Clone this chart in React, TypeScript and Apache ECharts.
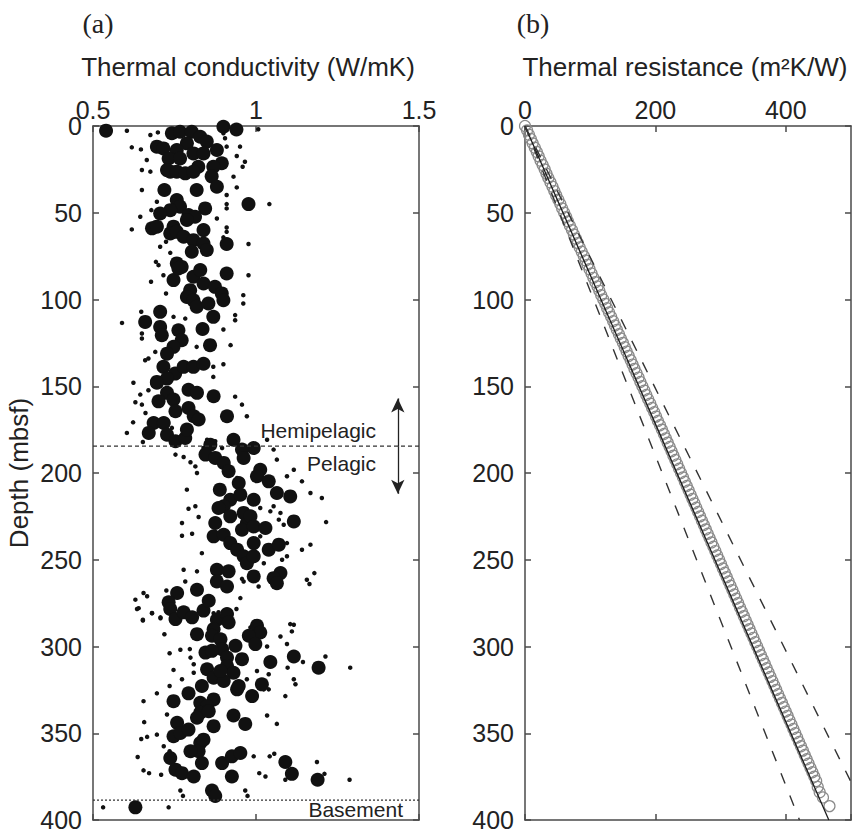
import React, { useEffect, useRef } from 'react';
import * as echarts from 'echarts';

// ---------- Panel (a): thermal conductivity (W/mK) vs depth (mbsf) ----------
const conductivityTicks = [0.5, 1, 1.5];
const depthTicks = [0, 50, 100, 150, 200, 250, 300, 350, 400];
const resistanceTicks = [0, 200, 400];

// large dots [conductivity, depth]
const bigDots: number[][] = [
  [0.54, 2.7], [0.90, 0.4], [0.94, 2.0],
  [0.742, 4.2], [0.767, 3.3], [0.803, 3.3], [0.829, 6.2], [0.849, 9.0], [0.788, 10.0], [0.757, 13.8], [0.696, 11.9],
  [0.716, 12.9], [0.732, 18.7], [0.767, 18.7], [0.808, 15.8], [0.839, 15.8], [0.880, 13.8], [0.895, 21.5], [0.869, 23.5],
  [0.823, 23.5], [0.737, 26.3], [0.727, 25.4], [0.757, 26.3], [0.783, 27.3], [0.808, 26.3], [0.864, 29.0],
  [0.818, 36.9], [0.880, 35.0], [0.719, 36.9], [0.844, 47.5], [0.977, 45.0],
  [0.757, 42.7], [0.767, 46.5], [0.737, 48.5], [0.706, 50.4], [0.793, 51.3], [0.813, 52.3], [0.788, 54.2], [0.681, 59.0],
  [0.696, 58.0], [0.747, 58.0], [0.737, 61.9], [0.757, 61.0], [0.778, 63.8], [0.808, 65.8], [0.803, 72.5], [0.839, 67.7],
  [0.849, 71.5], [0.839, 60.0], [0.910, 68.0], [0.910, 85.0],
  [0.757, 79.2], [0.772, 81.2], [0.747, 88.8], [0.762, 82.1], [0.808, 86.9], [0.829, 83.0], [0.839, 90.8], [0.798, 94.6],
  [0.788, 98.5], [0.808, 100.4], [0.818, 104.2], [0.854, 102.3], [0.869, 110.0], [0.874, 92.7], [0.895, 96.5], [0.900, 100.4],
  [0.706, 107.1], [0.660, 112.9], [0.706, 115.8], [0.711, 120.6], [0.762, 117.7], [0.772, 123.5], [0.747, 127.3],
  [0.727, 131.2], [0.716, 138.8], [0.752, 142.7], [0.778, 138.8], [0.808, 138.8], [0.839, 137.0], [0.859, 126.3],
  [0.836, 117.0], [0.696, 147.5], [0.727, 145.6],
  [0.696, 148.0], [0.727, 153.8], [0.701, 158.7], [0.747, 157.7], [0.793, 152.0], [0.819, 153.8], [0.870, 155.8],
  [0.753, 164.4], [0.793, 162.5], [0.809, 167.3], [0.824, 169.2], [0.686, 171.2], [0.717, 171.2], [0.671, 176.9],
  [0.727, 177.9], [0.753, 181.7], [0.783, 179.8], [0.788, 175.0], [0.911, 167.3], [0.931, 180.8], [0.993, 185.6],
  [0.860, 183.7], [0.845, 189.4], [0.875, 191.3], [0.901, 194.2], [0.916, 199.0], [0.957, 186.5], [0.962, 191.3],
  [1.013, 198.1], [1.003, 201.9], [1.039, 204.8], [0.947, 205.8], [0.889, 209.6], [0.921, 215.4], [0.952, 212.5],
  [0.993, 215.4], [1.064, 211.5], [1.105, 213.5], [0.901, 219.2], [0.885, 220.2], [0.875, 228.8], [0.921, 225.0],
  [0.962, 223.0], [0.972, 228.8], [0.983, 225.0], [0.957, 232.7], [0.993, 230.8], [1.029, 231.7], [1.116, 227.9],
  [0.870, 236.5], [0.901, 235.6], [0.921, 240.4], [0.942, 244.2], [0.962, 248.0], [0.972, 252.0], [0.993, 248.0],
  [0.993, 240.4], [1.039, 244.2], [1.070, 241.3], [1.075, 257.7], [1.054, 260.6], [1.064, 263.5], [0.993, 259.6],
  [0.880, 255.8], [0.916, 256.7], [0.880, 262.5], [0.911, 265.4], [0.758, 269.2], [0.819, 267.3], [0.880, 284.6],
  [0.732, 274.5], [0.737, 278.4], [0.753, 284.2], [0.778, 280.3], [0.804, 283.2], [0.839, 279.3], [0.855, 273.6],
  [0.911, 281.3], [0.916, 286.1], [0.870, 290.0], [0.819, 292.9], [0.865, 293.8], [0.891, 295.8], [0.896, 301.5],
  [0.937, 299.6], [0.957, 307.3], [0.845, 303.5], [0.865, 302.5], [0.911, 306.4], [0.911, 311.2], [0.931, 315.1],
  [0.850, 313.1], [0.870, 318.0], [0.901, 319.9], [0.891, 314.1], [1.003, 288.0], [1.013, 291.9], [0.978, 293.8],
  [0.998, 298.6], [1.044, 308.9], [1.116, 305.8], [1.192, 312.2], [0.834, 322.8], [0.793, 327.0], [0.747, 331.5],
  [0.829, 332.4], [0.870, 330.5], [0.850, 334.4], [0.942, 324.7], [0.947, 322.8], [0.988, 328.6], [1.018, 321.8],
  [0.829, 338.2], [0.819, 341.1], [0.855, 337.3], [0.870, 345.9], [0.931, 339.8], [0.967, 344.6], [0.758, 344.0],
  [0.747, 351.7], [0.768, 349.8], [0.793, 347.9], [0.829, 355.6], [0.824, 360.4], [0.839, 353.7], [0.799, 360.4],
  [0.834, 367.2], [0.737, 364.3], [0.753, 371.0], [0.773, 373.0], [0.809, 374.9], [0.896, 367.2], [0.926, 363.3],
  [0.952, 361.4], [0.926, 374.9], [1.090, 366.6], [1.110, 373.4], [1.189, 376.8], [0.865, 383.0], [0.875, 386.1],
  [0.630, 392.7],
];

// small dots [conductivity, depth]
const smallDots: number[][] = [
  [0.604, 2.7], [0.619, 12.3], [0.647, 13.5], [0.676, 5.2], [0.699, 3.7], [0.665, 19.6], [0.65, 25.4], [0.676, 26.3],
  [0.65, 36.9], [0.696, 43.7], [0.679, 48.5], [0.645, 52.3], [0.619, 59.6], [0.706, 69.6], [0.724, 66.7], [0.737, 73.1],
  [0.693, 78.3], [0.701, 80.2], [0.678, 89.8], [0.716, 86.0], [0.724, 96.5], [0.648, 107.1], [0.589, 113.5], [0.65, 119.6],
  [0.65, 122.5], [0.67, 134.0], [0.66, 135.0], [0.691, 130.2], [0.624, 148.0], [0.67, 152.3], [0.9, 2.3], [0.9, 4.2],
  [0.905, 7.1], [0.91, 11.9], [0.951, 11.9], [0.941, 17.3], [0.966, 20.6], [0.959, 23.5], [0.931, 29.2], [0.941, 35.4],
  [0.91, 39.8], [0.91, 45.0], [0.91, 47.5], [1.041, 45.0], [0.88, 53.3], [0.91, 58.5], [0.91, 61.0], [0.977, 68.0],
  [0.977, 86.0], [0.961, 97.5], [0.961, 102.3], [0.936, 109.0], [0.936, 112.0], [0.9, 117.3], [0.922, 126.3], [0.9, 137.3],
  [0.869, 144.6], [0.936, 156.0], [1.007, 1.9], [0.839, 58.0], [0.9, 64.2], [0.803, 101.3], [0.747, 110.0], [0.783, 111.0],
  [0.823, 117.7], [0.818, 127.3], [0.788, 137.0], [0.869, 138.8],
  [0.604, 176.9], [0.623, 170.8], [0.653, 182.1], [0.650, 160.6], [0.630, 159.2], [0.661, 165.4], [0.645, 154.8],
  [0.742, 174.0], [0.753, 189.4], [0.778, 190.8], [0.799, 193.8], [0.814, 196.2], [0.819, 200.0], [0.788, 209.6],
  [0.793, 220.6], [0.814, 219.2], [0.824, 225.4], [0.773, 228.8], [0.773, 236.2], [0.804, 235.0], [0.834, 246.2],
  [0.778, 255.8], [0.819, 256.7], [0.783, 262.5], [0.942, 202.9], [0.972, 167.3], [0.850, 180.8], [0.839, 185.6],
  [0.875, 181.7], [0.896, 185.6], [1.034, 180.8], [1.054, 186.5], [1.064, 192.3], [1.095, 201.9], [1.116, 198.1],
  [1.141, 204.8], [1.167, 211.5], [1.202, 214.4], [1.215, 228.3], [1.075, 223.0], [1.070, 226.9], [1.085, 229.8],
  [1.095, 240.4], [1.080, 250.0], [1.095, 248.0], [1.141, 244.2], [1.167, 241.3], [1.156, 261.5], [1.164, 264.0],
  [1.179, 257.7], [1.044, 222.1], [1.054, 219.2], [1.013, 220.2], [1.013, 236.5], [1.024, 252.0], [0.957, 261.0],
  [0.962, 262.5], [1.008, 265.4], [0.952, 272.1], [0.630, 273.0], [0.640, 277.9], [0.655, 269.2], [0.666, 271.0],
  [0.681, 280.8], [0.707, 283.7], [0.653, 285.0], [0.725, 267.7], [0.870, 280.8], [1.116, 287.5], [0.957, 160.6],
  [0.531, 392.7], [0.732, 392.7], [0.635, 278.4], [0.681, 280.7], [0.653, 284.6], [0.707, 283.2], [0.719, 292.9],
  [0.735, 303.9], [0.747, 313.5], [0.655, 331.5], [0.696, 327.0], [0.657, 343.6], [0.666, 352.1], [0.648, 353.3],
  [0.696, 350.8], [0.717, 357.5], [0.735, 360.4], [0.637, 363.7], [0.655, 371.4], [0.672, 373.0], [0.709, 373.9],
  [0.768, 383.0], [0.776, 386.1], [0.967, 383.0], [0.974, 386.1], [0.993, 363.3], [1.010, 373.0], [1.029, 374.9],
  [1.042, 363.3], [1.056, 361.8], [1.090, 376.8], [1.187, 366.6], [1.210, 373.4], [1.287, 376.8], [1.090, 328.6],
  [1.116, 318.9], [1.121, 321.8], [1.105, 287.1], [1.110, 291.3], [1.075, 294.2], [1.034, 300.0], [0.983, 289.0],
  [1.011, 286.5], [1.097, 312.2], [1.144, 308.9], [1.213, 305.8], [1.289, 312.2], [1.095, 298.6], [1.034, 339.8],
  [1.064, 344.6], [0.972, 318.9], [1.003, 314.1], [1.039, 316.0], [1.039, 324.7], [1.024, 324.7], [0.940, 278.4],
  [0.885, 280.3], [0.768, 301.9], [0.797, 301.5], [0.799, 306.4], [0.809, 310.2], [0.809, 315.1], [0.773, 318.9],
  [0.735, 322.8], [0.727, 339.2],
];

// boundaries (depth, mbsf)
const hemipelagicPelagicDepth = 184.5;
const basementDepth = 388.5;
const arrowX = 1.435;
const arrowUpDepth = 157;
const arrowDownDepth = 212;

// ---------- Panel (b): thermal resistance (m2K/W) vs depth ----------
const resDepth: number[] = [
  0, 2.5, 5, 7.5, 10, 12.5, 15, 17.5, 20, 22.5, 25, 27.5, 30, 32.5, 35, 37.5, 40, 42.5, 45, 47.5, 50,
  52.5, 55, 57.5, 60, 62.5, 65, 67.5, 70, 72.5, 75, 77.5, 80, 82.5, 85, 87.5, 90, 92.5, 95, 97.5, 100,
  102.5, 105, 107.5, 110, 112.5, 115, 117.5, 120, 122.5, 125, 127.5, 130, 132.5, 135, 137.5, 140, 142.5, 145, 147.5, 150,
  152.5, 155, 157.5, 160, 162.5, 165, 167.5, 170, 172.5, 175, 177.5, 180, 182.5, 185, 187.5, 190, 192.5, 195, 197.5, 200,
  202.5, 205, 207.5, 210, 212.5, 215, 217.5, 220, 222.5, 225, 227.5, 230, 232.5, 235, 237.5, 240, 242.5, 245, 247.5, 250,
  252.5, 255, 257.5, 260, 262.5, 265, 267.5, 270, 272.5, 275, 277.5, 280, 282.5, 285, 287.5, 290, 292.5, 295, 297.5, 300,
  302.5, 305, 307.5, 310, 312.5, 315, 317.5, 320, 322.5, 325, 327.5, 330, 332.5, 335, 337.5, 340, 342.5, 345, 347.5, 350,
  352.5, 355, 357.5, 360, 362.5, 365, 367.5, 370, 372.5, 375, 377.5,
  381, 384, 387, 392,
];
const resValues: number[] = [
  0, 3.2, 6.1, 9.0, 11.8, 15.1, 18.2, 21.0, 23.9, 27.1, 30.2, 33.0, 35.8, 39.1, 42.2, 45.0, 47.9, 51.1, 54.2, 57.0, 60.1,
  63.2, 66.0, 68.9, 72.1, 75.0, 78.2, 81.1, 83.9, 87.0, 90.2, 93.1, 95.9, 99.0, 102.1, 104.9, 108.0, 111.2, 114.0, 116.9, 120.1,
  123.2, 126.0, 128.9, 132.1, 135.2, 138.0, 140.9, 144.1, 147.0, 150.2, 153.1, 155.9, 159.0, 162.2, 165.0, 167.9, 171.1, 174.2, 177.0, 180.0,
  183.1, 186.0, 188.9, 192.1, 195.0, 198.2, 201.0, 203.9, 207.1, 210.0, 213.1, 216.0, 218.9, 221.9, 224.8, 227.6, 230.6, 233.5, 236.4, 239.3,
  242.3, 245.2, 248.1, 251.0, 254.0, 256.8, 259.8, 262.7, 265.6, 268.5, 271.4, 274.4, 277.3, 280.2, 283.1, 286.0, 289.0, 291.9, 294.8, 297.7,
  300.6, 303.5, 306.5, 309.4, 312.3, 315.2, 318.1, 321.1, 324.0, 326.9, 329.8, 332.7, 335.7, 338.6, 341.5, 344.4, 347.3, 350.3, 353.2, 356.1,
  359.0, 361.9, 364.9, 367.8, 370.7, 373.6, 376.5, 379.5, 382.4, 385.3, 388.2, 391.1, 394.1, 397.0, 399.9, 402.8, 405.7, 408.7, 411.6, 414.5,
  417.4, 420.3, 423.3, 426.2, 429.1, 432.0, 434.9, 437.9, 440.8, 443.7, 446.6,
  449, 452, 457, 467,
];
// fit line and bounds [resistance, depth]
const fitLine = [[0, 0], [466, 400]];
const lowerBound = [[0, 0], [421, 400]];
const upperBound = [[0, 0], [529, 400]];

const FONT = '"Liberation Sans", Arial, Helvetica, sans-serif';
const SERIF = '"Liberation Serif", "Times New Roman", serif';
const AX = '#4a4a4a';
const TXT = '#222';

function axisBase(extra: any) {
  return {
    type: 'value',
    axisLine: { show: true, onZero: false, lineStyle: { color: AX, width: 1.5 } },
    axisTick: { show: true, inside: true, length: 6, lineStyle: { color: AX, width: 1.5 } },
    splitLine: { show: false },
    ...extra,
  };
}
const tickLabel = { fontSize: 25, color: TXT, fontFamily: FONT };

const option: any = {
  animation: false,
  backgroundColor: '#fff',
  grid: [
    { left: 93, top: 126, width: 326, height: 694, outerBoundsMode: 'none', containLabel: false },
    { left: 525, top: 126, width: 326, height: 694, outerBoundsMode: 'none', containLabel: false },
  ],
  xAxis: [
    axisBase({ gridIndex: 0, position: 'top', min: conductivityTicks[0], max: conductivityTicks[2], interval: 0.5,
      axisLabel: { ...tickLabel, margin: 4 } }),
    axisBase({ gridIndex: 0, position: 'bottom', min: conductivityTicks[0], max: conductivityTicks[2], interval: 0.5,
      axisLabel: { show: false } }),
    axisBase({ gridIndex: 1, position: 'top', min: 0, max: 500, interval: resistanceTicks[1] - resistanceTicks[0],
      axisLabel: { ...tickLabel, margin: 4, showMaxLabel: false } }),
    axisBase({ gridIndex: 1, position: 'bottom', min: 0, max: 500, interval: 200, axisLabel: { show: false } }),
  ],
  yAxis: [
    axisBase({ gridIndex: 0, position: 'left', inverse: true, min: depthTicks[0], max: depthTicks[depthTicks.length - 1], interval: 50,
      axisLabel: { ...tickLabel, margin: 11 } }),
    axisBase({ gridIndex: 0, position: 'right', inverse: true, min: 0, max: 400, interval: 50, axisLabel: { show: false } }),
    axisBase({ gridIndex: 1, position: 'left', inverse: true, min: 0, max: 400, interval: 50,
      axisLabel: { ...tickLabel, margin: 11 } }),
    axisBase({ gridIndex: 1, position: 'right', inverse: true, min: 0, max: 400, interval: 50, axisLabel: { show: false } }),
  ],
  series: [
    { type: 'scatter', xAxisIndex: 0, yAxisIndex: 0, data: smallDots, symbolSize: 4.5, silent: true,
      itemStyle: { color: '#111', opacity: 1 } },
    { type: 'scatter', xAxisIndex: 0, yAxisIndex: 0, data: bigDots, symbolSize: 14, silent: true,
      itemStyle: { color: '#111', opacity: 1 } },
    { type: 'line', xAxisIndex: 0, yAxisIndex: 0, symbol: 'none', silent: true,
      data: [[conductivityTicks[0], hemipelagicPelagicDepth], [conductivityTicks[2], hemipelagicPelagicDepth]],
      lineStyle: { color: '#333', width: 1.2, type: [4, 3] } },
    { type: 'line', xAxisIndex: 0, yAxisIndex: 0, symbol: 'none', silent: true,
      data: [[conductivityTicks[0], basementDepth], [conductivityTicks[2], basementDepth]],
      lineStyle: { color: '#333', width: 1.2, type: [2, 2] } },
    { type: 'line', xAxisIndex: 0, yAxisIndex: 0, data: [], silent: true,
      markLine: {
        silent: true, symbol: ['none', 'arrow'], symbolSize: [10, 14], animation: false,
        label: { show: false },
        lineStyle: { color: '#222', type: 'solid', width: 1.3 },
        data: [
          [{ coord: [arrowX, hemipelagicPelagicDepth] }, { coord: [arrowX, arrowUpDepth] }],
          [{ coord: [arrowX, hemipelagicPelagicDepth] }, { coord: [arrowX, arrowDownDepth] }],
        ],
      } },
    { type: 'scatter', xAxisIndex: 2, yAxisIndex: 2, silent: true,
      data: resDepth.map((d, i) => [resValues[i], d]), symbol: 'circle', symbolSize: 11,
      itemStyle: { color: 'rgba(0,0,0,0)', borderColor: '#8a8a8a', borderWidth: 1.2, opacity: 1 } },
    { type: 'line', xAxisIndex: 2, yAxisIndex: 2, symbol: 'none', silent: true, data: fitLine,
      lineStyle: { color: '#1a1a1a', width: 1.3 } },
    { type: 'line', xAxisIndex: 2, yAxisIndex: 2, symbol: 'none', silent: true, data: lowerBound,
      lineStyle: { color: '#333', width: 1.4, type: [11, 13] } },
    { type: 'line', xAxisIndex: 2, yAxisIndex: 2, symbol: 'none', silent: true, data: upperBound,
      lineStyle: { color: '#333', width: 1.4, type: [11, 13] } },
  ],
  graphic: [
    { type: 'text', x: 98, y: 23, style: { text: '(a)', font: `28px ${SERIF}`, fill: TXT, align: 'center', verticalAlign: 'middle' } },
    { type: 'text', x: 533, y: 23, style: { text: '(b)', font: `28px ${SERIF}`, fill: TXT, align: 'center', verticalAlign: 'middle' } },
    { type: 'text', x: 248, y: 67, style: { text: 'Thermal conductivity (W/mK)', font: `26px ${FONT}`, fill: TXT, align: 'center', verticalAlign: 'middle' } },
    { type: 'text', x: 685, y: 67, style: { text: 'Thermal resistance (m²K/W)', font: `26px ${FONT}`, fill: TXT, align: 'center', verticalAlign: 'middle' } },
    { type: 'text', x: 19, y: 473, rotation: Math.PI / 2, style: { text: 'Depth (mbsf)', font: `26px ${FONT}`, fill: TXT, align: 'center', verticalAlign: 'middle' } },
    { type: 'text', x: 376, y: 430, style: { text: 'Hemipelagic', font: `21px ${FONT}`, fill: TXT, align: 'right', verticalAlign: 'middle' } },
    { type: 'text', x: 376, y: 463, style: { text: 'Pelagic', font: `21px ${FONT}`, fill: TXT, align: 'right', verticalAlign: 'middle' } },
    { type: 'text', x: 403, y: 809, style: { text: 'Basement', font: `21px ${FONT}`, fill: TXT, align: 'right', verticalAlign: 'middle' } },
  ],
};

export default function App() {
  const ref = useRef<HTMLDivElement>(null);
  useEffect(() => {
    if (!ref.current) return;
    const chart = echarts.init(ref.current, null, { renderer: 'svg' });
    chart.setOption(option);
    return () => chart.dispose();
  }, []);
  return (
    <div
      ref={ref}
      style={{ position: 'fixed', left: 0, top: 0, width: 859, height: 833, background: '#fff' }}
    />
  );
}
